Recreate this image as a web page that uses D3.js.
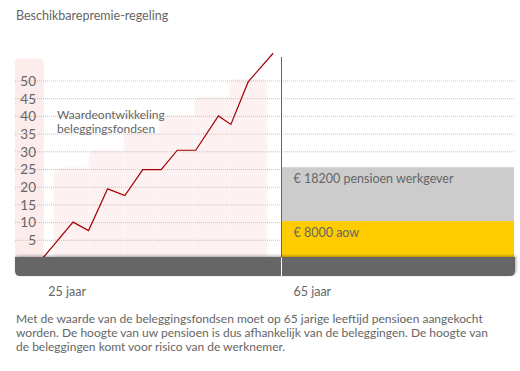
<!DOCTYPE html>
<html>
<head>
<meta charset="utf-8">
<script src="https://cdn.jsdelivr.net/npm/d3@7"></script>
<style>
  body { margin: 0; background: #fff; }
  text { font-family: Lato, "Open Sans", sans-serif; fill: #666; }
</style>
</head>
<body>
<div id="chart"></div>
<script>
// data
const yTicks = [5, 10, 15, 20, 25, 30, 35, 40, 45, 50]
const barPeriods = ['p1', 'p2', 'p3', 'p4', 'p5', 'p6']
const barValues = [25, 30, 35, 40, 45, 50]
const lineAges = [25, 30, 32.6, 35.8, 38.7, 41.7, 44.8, 47.5, 50.6, 54.4, 56.5, 59.4, 63.6]
const lineValues = [0, 10, 7.6, 19.4, 17.5, 24.8, 24.8, 30.3, 30.3, 40, 37.6, 49.6, 57.7]
const pensionLabels = ['€ 8000 aow', '€ 18200 pensioen werkgever']
const pensionValues = [10.3, 15.2]
const ageLabels = ['25 jaar', '65 jaar']
const ageTicks = [25, 65]
const title = 'Beschikbarepremie-regeling'
const noteLines = [
    'Met de waarde van de beleggingsfondsen moet op 65 jarige leeftijd pensioen aangekocht',
    'worden. De hoogte van uw pensioen is dus afhankelijk van de beleggingen. De hoogte van',
    'de beleggingen komt voor risico van de werknemer.'
]

const W = 520, H = 371
const left = 15, right = 514

let svg = d3.select('#chart').append('svg')
    .attr('width', W).attr('height', H)

let defs = svg.append('defs')
let shadow = defs.append('filter').attr('id', 'shadow')
    .attr('x', '-5%').attr('y', '-40%').attr('width', '110%').attr('height', '180%')
shadow.append('feDropShadow')
    .attr('dx', 1).attr('dy', -1).attr('stdDeviation', 1.5)
    .attr('flood-color', '#000').attr('flood-opacity', 0.35)

let x = d3.scaleLinear().domain([25, 65]).range([43.3, 281.5])
let y = d3.scaleLinear().domain([0, 50]).range([257.5, 80.5])
let xb = d3.scaleBand().domain(barPeriods).range([55, 266]).padding(0)

// title
svg.append('text').attr('x', 16).attr('y', 20)
    .attr('font-size', 12.5).text(title)

// pink column behind y labels
svg.append('path')
    .attr('fill', '#fcecec')
    .attr('d', roundTop(left, y(56.2), x(25) + 0.5 - left, y(0) - y(56.2), 4))

// pink step bars
svg.append('g').selectAll('path')
    .data(barValues)
    .join('path')
    .attr('fill', '#fdf1f1')
    .attr('stroke', '#fbf7f7')
    .attr('stroke-width', 1.5)
    .attr('d', (d, i) => roundTop(xb(barPeriods[i]) - 1, y(d) - 1, xb.bandwidth() + 2, y(0) - y(d) + 1, 7))

// dotted grid lines
svg.append('g')
    .attr('transform', `translate(${left},0)`)
    .call(d3.axisRight(y).tickValues(yTicks).tickSize(right - left).tickFormat(''))
    .call(g => {
        g.select('.domain').remove()
        g.selectAll('.tick line').attr('stroke', '#c4c4c4').attr('stroke-dasharray', '1,1')
    })

// y labels
svg.append('g')
    .attr('transform', 'translate(36,0)')
    .call(d3.axisLeft(y).tickValues(yTicks).tickSize(0).tickPadding(0))
    .call(g => {
        g.select('.domain').remove()
        g.selectAll('.tick text')
            .attr('font-size', 13.5).attr('font-family', 'Lato, sans-serif').attr('fill', '#777')
            .attr('dy', '0.36em')
    })

// annotation
svg.append('text').attr('x', 57).attr('y', 119).attr('font-size', 12).text('Waardeontwikkeling')
svg.append('text').attr('x', 57).attr('y', 132.5).attr('font-size', 12).text('beleggingsfondsen')

// pension stack after 65
let stack = []
let acc = 0
pensionValues.forEach((v, i) => {
    stack.push({ label: pensionLabels[i], y0: acc, y1: acc + v })
    acc += v
})
const pensionColors = ['#ffcc00', '#cccccc']
svg.append('g').selectAll('rect')
    .data(stack)
    .join('rect')
    .attr('x', x(65) + 0.5)
    .attr('width', right - x(65) - 0.5)
    .attr('y', d => y(d.y1))
    .attr('height', d => y(d.y0) - y(d.y1))
    .attr('fill', (d, i) => pensionColors[i])
svg.append('g').selectAll('text')
    .data(stack)
    .join('text')
    .attr('x', x(65) + 12)
    .attr('y', d => y(d.y1) + 16)
    .attr('font-size', 12.5)
    .attr('fill', '#666')
    .text(d => d.label)

// value line
let pts = lineAges.map((a, i) => [a, lineValues[i]])
svg.append('path')
    .datum(pts)
    .attr('fill', 'none')
    .attr('stroke', '#a30000')
    .attr('stroke-width', 1.2)
    .attr('d', d3.line().x(d => x(d[0])).y(d => y(d[1])))

// vertical 65 line
svg.append('line')
    .attr('x1', x(65)).attr('x2', x(65))
    .attr('y1', 57).attr('y2', y(0))
    .attr('stroke', '#666').attr('stroke-width', 1)

// dark base bar
svg.append('path')
    .attr('fill', '#666')
    .attr('filter', 'url(#shadow)')
    .attr('d', roundBottom(left, y(0) - 0.5, right + 1 - left, 19, 5))
svg.append('line')
    .attr('x1', x(65)).attr('x2', x(65))
    .attr('y1', y(0)).attr('y2', y(0) + 18.5)
    .attr('stroke', '#fff').attr('stroke-width', 1)

// age labels
svg.append('g').selectAll('text')
    .data(ageTicks)
    .join('text')
    .attr('x', (d, i) => x(d) + (i === 0 ? 5 : 12))
    .attr('y', 296)
    .attr('font-size', 12.5)
    .text((d, i) => ageLabels[i])

// note
svg.append('g').selectAll('text')
    .data(noteLines)
    .join('text')
    .attr('x', 16)
    .attr('y', (d, i) => 323 + i * 14)
    .attr('font-size', 12)
    .text(d => d)

function roundTop(x0, y0, w, h, r) {
    return `M${x0},${y0 + h}V${y0 + r}Q${x0},${y0} ${x0 + r},${y0}H${x0 + w - r}Q${x0 + w},${y0} ${x0 + w},${y0 + r}V${y0 + h}Z`
}
function roundBottom(x0, y0, w, h, r) {
    return `M${x0},${y0}H${x0 + w}V${y0 + h - r}Q${x0 + w},${y0 + h} ${x0 + w - r},${y0 + h}H${x0 + r}Q${x0},${y0 + h} ${x0},${y0 + h - r}Z`
}
</script>
</body>
</html>
